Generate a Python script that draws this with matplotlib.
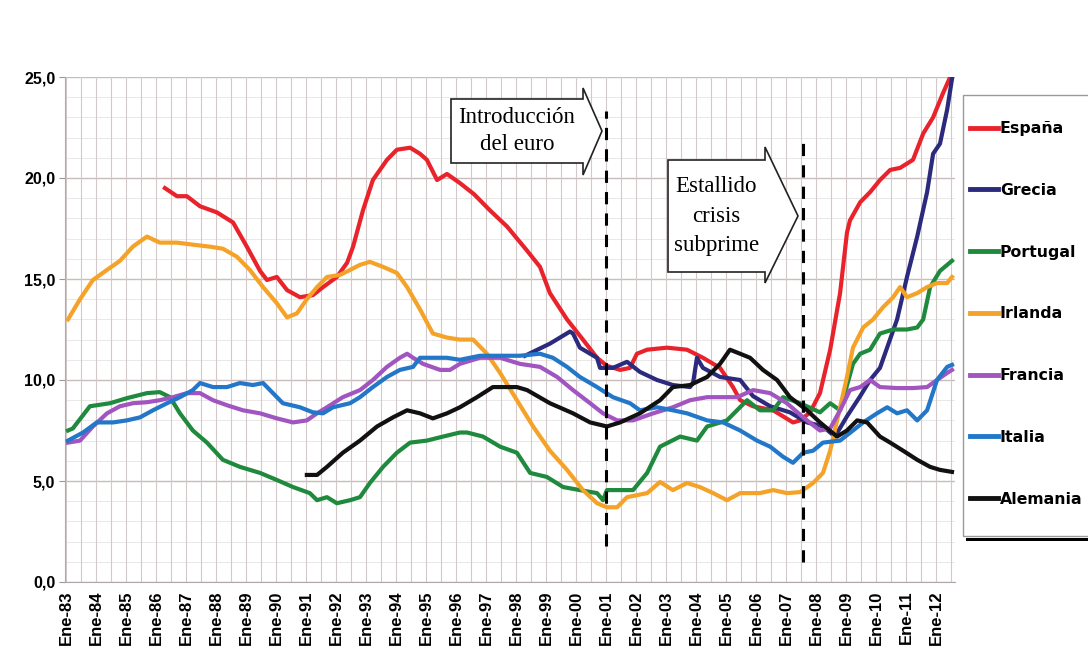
import matplotlib
matplotlib.use('Agg')  # no display in the sandbox
from matplotlib import pyplot as plt
from matplotlib.patches import Polygon, Rectangle
from matplotlib import transforms

# Unemployment rate (%) as (decimal year, value)
espana = [(1986.3, 19.5), (1986.7, 19.1), (1987.03, 19.1), (1987.47, 18.6), (1988.03, 18.3),
          (1988.57, 17.8), (1989.03, 16.6), (1989.47, 15.4), (1989.7, 14.95), (1990.03, 15.1),
          (1990.37, 14.45), (1990.8, 14.1), (1991.23, 14.2), (1991.57, 14.6), (1992.03, 15.1),
          (1992.37, 15.8), (1992.57, 16.6), (1992.9, 18.4), (1993.23, 19.9), (1993.7, 20.9),
          (1994.03, 21.4), (1994.47, 21.5), (1994.8, 21.2), (1995.03, 20.9), (1995.37, 19.9),
          (1995.7, 20.2), (1996.13, 19.75), (1996.6, 19.2), (1997.13, 18.4), (1997.7, 17.6),
          (1998.37, 16.4), (1998.8, 15.6), (1999.13, 14.3), (1999.7, 13.0), (2000.23, 12.0),
          (2000.7, 11.1), (2001.03, 10.7), (2001.47, 10.5), (2001.8, 10.6), (2002.03, 11.3),
          (2002.37, 11.5), (2003.03, 11.6), (2003.7, 11.5), (2004.23, 11.1), (2004.8, 10.6),
          (2005.23, 9.65), (2005.47, 9.0), (2005.9, 8.7), (2006.57, 8.5), (2007.23, 7.9),
          (2007.47, 8.0), (2007.8, 8.4), (2008.13, 9.35), (2008.47, 11.5), (2008.8, 14.3),
          (2009.03, 17.3), (2009.13, 17.9), (2009.47, 18.8), (2009.8, 19.3), (2010.13, 19.9),
          (2010.47, 20.4), (2010.8, 20.5), (2011.23, 20.9), (2011.57, 22.2), (2011.9, 23.0),
          (2012.23, 24.2), (2012.47, 25.0)]

grecia = [(1998.3, 11.2), (1999.13, 11.8), (1999.8, 12.4), (1999.9, 12.3), (2000.13, 11.6),
          (2000.7, 11.1), (2000.8, 10.6), (2001.23, 10.6), (2001.7, 10.9), (2002.13, 10.4),
          (2002.7, 10.0), (2003.23, 9.75), (2003.8, 9.65), (2003.9, 9.85), (2004.03, 11.1),
          (2004.23, 10.6), (2004.8, 10.15), (2005.47, 10.0), (2005.9, 9.2), (2006.47, 8.7),
          (2007.13, 8.4), (2007.7, 7.9), (2008.23, 7.7), (2008.63, 7.2), (2009.03, 8.2),
          (2009.47, 9.2), (2009.8, 10.0), (2010.13, 10.6), (2010.7, 13.0), (2011.03, 15.1),
          (2011.37, 17.1), (2011.7, 19.3), (2011.9, 21.2), (2012.13, 21.7), (2012.37, 23.4),
          (2012.53, 24.9)]

portugal = [(1983.07, 7.5), (1983.23, 7.6), (1983.8, 8.7), (1984.47, 8.85), (1985.03, 9.1),
            (1985.7, 9.35), (1986.13, 9.4), (1986.47, 9.15), (1986.8, 8.35), (1987.23, 7.5),
            (1987.7, 6.9), (1988.23, 6.05), (1988.8, 5.7), (1989.47, 5.4), (1990.03, 5.05),
            (1990.57, 4.7), (1991.13, 4.4), (1991.37, 4.05), (1991.7, 4.2), (1992.03, 3.9),
            (1992.47, 4.05), (1992.8, 4.2), (1993.13, 4.9), (1993.57, 5.7), (1994.03, 6.4),
            (1994.47, 6.9), (1995.03, 7.0), (1995.57, 7.2), (1996.13, 7.4), (1996.37, 7.4),
            (1996.9, 7.2), (1997.47, 6.7), (1998.03, 6.4), (1998.47, 5.4), (1999.03, 5.2),
            (1999.57, 4.7), (2000.13, 4.55), (2000.7, 4.4), (2000.9, 4.05), (2001.03, 4.55),
            (2001.9, 4.55), (2002.37, 5.4), (2002.8, 6.7), (2003.47, 7.2), (2004.03, 7.0),
            (2004.37, 7.7), (2005.03, 8.0), (2005.7, 9.0), (2006.13, 8.5), (2006.57, 8.5),
            (2006.9, 9.15), (2007.47, 8.85), (2008.13, 8.4), (2008.47, 8.85), (2008.8, 8.5),
            (2009.23, 10.8), (2009.47, 11.3), (2009.8, 11.5), (2010.13, 12.3), (2010.57, 12.5),
            (2011.03, 12.5), (2011.37, 12.6), (2011.57, 13.0), (2011.8, 14.6), (2012.13, 15.4),
            (2012.53, 15.9)]

irlanda = [(1983.07, 13.0), (1983.47, 14.0), (1983.9, 14.95), (1984.37, 15.45), (1984.8, 15.9),
           (1985.23, 16.6), (1985.7, 17.1), (1986.13, 16.8), (1986.7, 16.8), (1987.23, 16.7),
           (1987.8, 16.6), (1988.23, 16.5), (1988.7, 16.1), (1989.13, 15.45), (1989.57, 14.6),
           (1990.03, 13.8), (1990.37, 13.1), (1990.7, 13.3), (1991.03, 14.0), (1991.37, 14.6),
           (1991.7, 15.1), (1992.13, 15.2), (1992.47, 15.45), (1992.8, 15.7), (1993.13, 15.85),
           (1993.57, 15.6), (1994.03, 15.3), (1994.37, 14.6), (1994.8, 13.5), (1995.23, 12.3),
           (1995.7, 12.1), (1996.13, 12.0), (1996.57, 12.0), (1997.03, 11.3), (1997.47, 10.35),
           (1998.03, 9.0), (1998.57, 7.7), (1999.13, 6.5), (1999.7, 5.55), (2000.23, 4.55),
           (2000.7, 3.9), (2001.03, 3.7), (2001.37, 3.7), (2001.7, 4.2), (2002.37, 4.4),
           (2002.8, 4.95), (2003.23, 4.55), (2003.7, 4.9), (2004.13, 4.7), (2004.57, 4.4),
           (2005.03, 4.05), (2005.47, 4.4), (2006.13, 4.4), (2006.57, 4.55), (2007.03, 4.4),
           (2007.47, 4.45), (2007.9, 4.9), (2008.23, 5.4), (2008.47, 6.5), (2008.7, 8.0),
           (2009.03, 10.15), (2009.23, 11.6), (2009.57, 12.6), (2009.9, 13.0), (2010.23, 13.6),
           (2010.57, 14.1), (2010.8, 14.6), (2011.03, 14.1), (2011.37, 14.3), (2011.7, 14.6),
           (2012.03, 14.8), (2012.37, 14.8), (2012.53, 15.1)]

francia = [(1983.07, 6.9), (1983.47, 7.0), (1983.9, 7.7), (1984.37, 8.35), (1984.8, 8.7),
           (1985.23, 8.85), (1985.7, 8.9), (1986.13, 9.0), (1986.57, 9.15), (1987.03, 9.35),
           (1987.47, 9.35), (1987.9, 9.0), (1988.37, 8.75), (1988.9, 8.5), (1989.47, 8.35),
           (1990.03, 8.1), (1990.57, 7.9), (1991.03, 8.0), (1991.37, 8.35), (1991.7, 8.65),
           (1992.23, 9.15), (1992.8, 9.5), (1993.23, 10.0), (1993.7, 10.65), (1994.13, 11.1),
           (1994.37, 11.3), (1994.57, 11.1), (1994.9, 10.8), (1995.47, 10.5), (1995.8, 10.5),
           (1996.13, 10.8), (1996.8, 11.1), (1997.47, 11.1), (1998.13, 10.8), (1998.8, 10.65),
           (1999.37, 10.15), (1999.9, 9.5), (2000.47, 8.85), (2000.9, 8.35), (2001.37, 8.0),
           (2001.9, 8.0), (2002.57, 8.35), (2003.23, 8.65), (2003.8, 9.0), (2004.37, 9.15),
           (2005.37, 9.15), (2005.9, 9.5), (2006.47, 9.35), (2007.03, 8.85), (2007.57, 8.15),
           (2008.13, 7.5), (2008.47, 7.6), (2008.8, 8.5), (2009.13, 9.5), (2009.47, 9.65),
           (2009.8, 10.0), (2010.13, 9.65), (2010.7, 9.6), (2011.23, 9.6), (2011.7, 9.65),
           (2012.03, 10.0), (2012.37, 10.35), (2012.53, 10.5)]

italia = [(1983.07, 7.0), (1983.57, 7.4), (1984.03, 7.9), (1984.57, 7.9), (1985.03, 8.0),
          (1985.47, 8.15), (1985.9, 8.5), (1986.37, 8.85), (1986.8, 9.15), (1987.23, 9.5),
          (1987.47, 9.85), (1987.9, 9.65), (1988.37, 9.65), (1988.8, 9.85), (1989.23, 9.75),
          (1989.57, 9.85), (1989.9, 9.35), (1990.23, 8.85), (1990.8, 8.65), (1991.23, 8.4),
          (1991.57, 8.35), (1991.9, 8.65), (1992.47, 8.85), (1992.8, 9.15), (1993.23, 9.65),
          (1993.7, 10.15), (1994.13, 10.5), (1994.57, 10.65), (1994.8, 11.1), (1995.23, 11.1),
          (1995.7, 11.1), (1996.13, 11.0), (1996.8, 11.2), (1997.47, 11.2), (1998.13, 11.2),
          (1998.8, 11.3), (1999.23, 11.1), (1999.7, 10.65), (2000.13, 10.15), (2000.7, 9.65),
          (2001.23, 9.15), (2001.8, 8.85), (2002.13, 8.5), (2002.7, 8.65), (2003.23, 8.5),
          (2003.7, 8.35), (2004.37, 8.0), (2004.9, 7.9), (2005.47, 7.5), (2006.03, 7.0),
          (2006.47, 6.7), (2006.9, 6.2), (2007.23, 5.9), (2007.57, 6.4), (2007.9, 6.5),
          (2008.23, 6.9), (2008.8, 7.0), (2009.23, 7.5), (2009.57, 7.9), (2010.03, 8.35),
          (2010.37, 8.65), (2010.7, 8.35), (2011.03, 8.5), (2011.37, 8.0), (2011.7, 8.5),
          (2012.03, 10.0), (2012.37, 10.65), (2012.53, 10.75)]

alemania = [(1991.03, 5.3), (1991.37, 5.3), (1991.7, 5.7), (1992.23, 6.4), (1992.8, 7.0),
            (1993.37, 7.7), (1993.9, 8.15), (1994.37, 8.5), (1994.8, 8.35), (1995.23, 8.1),
            (1995.7, 8.35), (1996.13, 8.65), (1996.7, 9.15), (1997.23, 9.65), (1998.03, 9.65),
            (1998.37, 9.5), (1999.13, 8.85), (1999.9, 8.35), (2000.47, 7.9), (2001.03, 7.7),
            (2001.47, 7.9), (2002.13, 8.35), (2002.8, 9.0), (2003.23, 9.65), (2003.8, 9.75),
            (2004.37, 10.15), (2004.8, 10.8), (2005.13, 11.5), (2005.47, 11.3), (2005.8, 11.1),
            (2006.23, 10.5), (2006.7, 10.0), (2007.13, 9.15), (2007.7, 8.5), (2008.13, 7.9),
            (2008.7, 7.2), (2009.03, 7.5), (2009.37, 8.0), (2009.7, 7.9), (2010.13, 7.2),
            (2010.47, 6.9), (2010.9, 6.5), (2011.37, 6.05), (2011.8, 5.7), (2012.13, 5.55),
            (2012.53, 5.45)]

series_names = ['España', 'Grecia', 'Portugal', 'Irlanda', 'Francia', 'Italia', 'Alemania']
series_data = [espana, grecia, portugal, irlanda, francia, italia, alemania]
series_colors = ['#e8232b', '#2b2a7c', '#1f8a3d', '#f5a228', '#a155c0', '#2277c9', '#111111']

years = list(range(1983, 2013))
year_labels = ['Ene-%02d' % (y % 100) for y in years]
y_ticks = [0, 5, 10, 15, 20, 25]
y_labels = ['0,0', '5,0', '10,0', '15,0', '20,0', '25,0']

euro_year = 2001.0
crisis_year = 2007.57

fig = plt.figure(figsize=(10.88, 6.6), dpi=100)
ax = fig.add_axes([65 / 1088, 1 - 582 / 660, 890 / 1088, 505 / 660])

# grid: thin lines every half year / every unit, stronger every 5
for y in range(0, 26):
    ax.axhline(y, color='#c9bcbc' if y % 5 == 0 else '#ece7e7', lw=1.0 if y % 5 == 0 else 0.7, zorder=0)
for i in range(0, 60):
    ax.axvline(1983 + i * 0.5, color='#d3c9c9', lw=0.8, zorder=0)

for name, data, color in zip(series_names, series_data, series_colors):
    xs = [p[0] for p in data]
    ys = [p[1] for p in data]
    ax.plot(xs, ys, color=color, lw=3.0, label=name, solid_joinstyle='round', zorder=3)

# event markers
ax.plot([euro_year, euro_year], [1.8, 23.3], color='black', lw=2.2, ls=(0, (4, 3)), zorder=4)
ax.plot([crisis_year, crisis_year], [1.0, 21.9], color='black', lw=2.2, ls=(0, (4, 3)), zorder=4)

ax.set_xlim(1982.97, 2012.63)
ax.set_ylim(0, 25)
ax.set_xticks(years)
ax.set_xticklabels(year_labels, rotation=90, fontsize=12, fontweight='bold', family='Liberation Sans')
ax.set_yticks(y_ticks)
ax.set_yticklabels(y_labels, fontsize=11.5, fontweight='bold', family='Liberation Sans')
ax.tick_params(axis='x', length=0, pad=6)
ax.tick_params(axis='y', length=4, color='#999999', pad=3)
for side in ['top', 'right']:
    ax.spines[side].set_visible(False)
for side in ['left', 'bottom']:
    ax.spines[side].set_color('#b0a8a8')

# arrow shaped callouts, drawn in pixel coordinates from the top-left corner
px = transforms.Affine2D().scale(1 / 1088, -1 / 660).translate(0, 1) + fig.transFigure


def arrow_box(left, top, right, bottom, head_top, head_bottom, tip):
    mid = (top + bottom) / 2
    pts = [(left, top), (right, top), (right, head_top), (tip, mid),
           (right, head_bottom), (right, bottom), (left, bottom)]
    fig.patches.append(Polygon(pts, closed=True, transform=px, facecolor='white',
                               edgecolor='#222222', lw=1.2, zorder=5))
    return (left + right) / 2, mid


cx, cy = arrow_box(451, 99, 583, 163, 88, 175, 602)
fig.text(cx / 1088, 1 - cy / 660, 'Introducción\ndel euro', ha='center', va='center',
         family='Liberation Serif', fontsize=16.5, linespacing=1.4, zorder=6)
cx, cy = arrow_box(668, 160, 765, 272, 147, 283, 798)
fig.text(cx / 1088, 1 - cy / 660, 'Estallido\ncrisis\nsubprime', ha='center', va='center',
         family='Liberation Serif', fontsize=16.5, linespacing=1.55, zorder=6)

# legend frame with a dark drop shadow along the bottom
fig.patches.append(Rectangle((966, 538), 130, 3, transform=px, facecolor='black',
                             edgecolor='none', zorder=1))
fig.patches.append(Rectangle((963, 95), 130, 441, transform=px, facecolor='white',
                             edgecolor='#9a9a9a', lw=1.0, zorder=2))

handles, labels = ax.get_legend_handles_labels()
leg = fig.legend(handles, labels, loc='upper left', bbox_to_anchor=(970 / 1088, 1 - 121 / 660),
                 frameon=False, borderpad=0,
                 labelspacing=2.98, handlelength=1.8, handletextpad=0.1, borderaxespad=0,
                 prop={'family': 'DejaVu Sans', 'weight': 'bold', 'size': 11.3})
leg.set_zorder(10)
for line in leg.get_lines():
    line.set_linewidth(3.5)

plt.savefig('out.png', dpi=100)
plt.close(fig)
